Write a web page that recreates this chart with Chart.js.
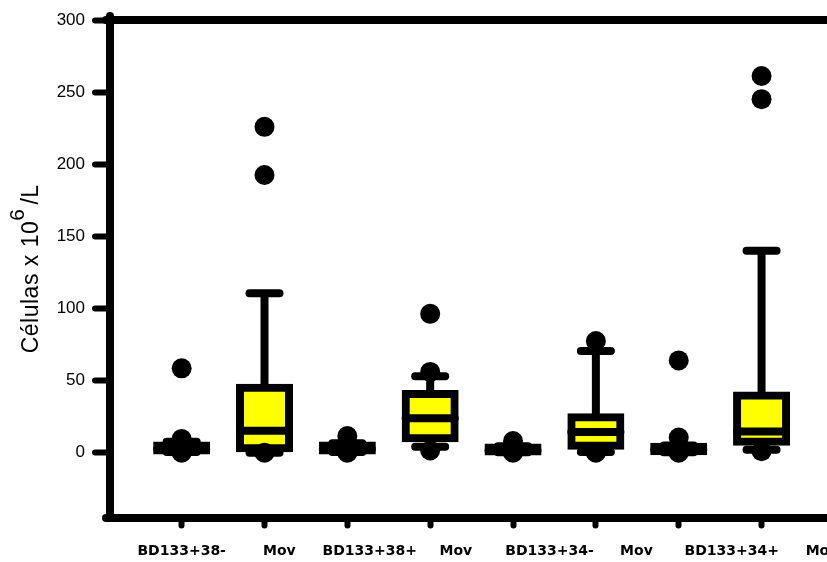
<!DOCTYPE html>
<html>
<head>
<meta charset="utf-8">
<title>Células x 10^6/L</title>
<script src="https://cdn.jsdelivr.net/npm/chart.js@4.4.1/dist/chart.umd.min.js"></script>
<style>
  html, body { margin: 0; padding: 0; background: #ffffff; overflow: hidden; }
  #wrap { width: 827px; height: 562px; position: relative; }
</style>
</head>
<body>
<div id="wrap"><canvas id="chart" width="827" height="562"></canvas></div>
<script>
// Groups along the x axis
const categories = ['BD133+38-', 'Mov', 'BD133+38+', 'Mov', 'BD133+34-', 'Mov', 'BD133+34+', 'Mov'];
const categoryPos = [1, 2, 3, 4, 5, 6, 7, 8];

// Box plot statistics (cells x 10^6 / L)
const whiskerLow  = [0.5, 0,     0.5, 4,    0.3, 0.5,  0.3, 2];
const q1          = [1.5, 3,     1.5, 10,   0.8, 4.8,  1,   7.5];
const median      = [2.5, 15.2,  2.5, 23.8, 1.5, 14.3, 2,   14.7];
const q3          = [5,   45,    5,   40.6, 3.5, 24.6, 4,   39.7];
const whiskerHigh = [7.5, 110.5, 6.5, 53,   4.5, 70.5, 5,   140];
const outliers = [
  [0, 9.5, 58.5],
  [0, 192.6, 226],
  [0, 11.5],
  [1.5, 56, 96.3],
  [0, 8],
  [0, 77.4],
  [0, 10.5, 64],
  [1, 245.2, 261.3]
];

// Axis ticks and where each group label sits on the x axis
const yTicks = [0, 50, 100, 150, 200, 250, 300];
const labelPos = [1.0, 2.18, 3.27, 4.31, 5.44, 6.49, 7.64, 8.73];

const BLACK = '#000000';
const YELLOW = '#ffff00';
const LW = 8;
const X_MIN = 0.135, X_MAX = 8.79;

const boxData = categoryPos.map((x, i) => ({ x, y: [q1[i], q3[i]] }));
const whiskerData = categoryPos.map((x, i) => ({ x, y: [whiskerLow[i], whiskerHigh[i]] }));
const capData = categoryPos.flatMap((x, i) => [{ x, y: whiskerLow[i] }, { x, y: whiskerHigh[i] }]);
const medianData = categoryPos.map((x, i) => ({ x, y: median[i] }));
const outlierData = categoryPos.flatMap((x, i) => outliers[i].map(v => ({ x, y: v })));

// A box thinner than its own outline shows no fill
function boxFill(ctx) {
  const i = ctx.dataIndex;
  const y = ctx.chart.scales && ctx.chart.scales.y;
  if (i === undefined || !y) return YELLOW;
  const h = Math.abs(y.getPixelForValue(q1[i]) - y.getPixelForValue(q3[i]));
  return h > LW ? YELLOW : BLACK;
}

const decorations = {
  id: 'decorations',
  beforeDraw(chart) {
    chart.ctx.lineCap = 'round';
    chart.ctx.lineJoin = 'round';
  },
  afterDraw(chart) {
    const { ctx, scales: { x, y } } = chart;

    // group labels under the axis
    ctx.save();
    ctx.font = 'bold 14px "DejaVu Sans", sans-serif';
    ctx.fillStyle = BLACK;
    ctx.textAlign = 'center';
    ctx.textBaseline = 'middle';
    categories.forEach((t, i) => {
      ctx.fillText(t, x.getPixelForValue(labelPos[i]), x.top + 34);
    });
    ctx.restore();

    // y axis title with raised exponent
    const size = 23;
    const main = 'Células x 10';
    const sup = '6';
    const tail = '/L';
    ctx.save();
    ctx.fillStyle = BLACK;
    ctx.textBaseline = 'alphabetic';
    ctx.textAlign = 'left';
    if ('letterSpacing' in ctx) ctx.letterSpacing = '0.5px';
    const fMain = size + 'px "Liberation Sans", Arial, sans-serif';
    const fSup = (size - 2) + 'px "Liberation Sans", Arial, sans-serif';
    ctx.font = fMain;
    const wMain = ctx.measureText(main).width;
    const wTail = ctx.measureText(tail).width;
    ctx.font = fSup;
    const wSup = ctx.measureText(sup).width;
    const gap = 4;
    const total = wMain + wSup + gap + wTail;
    ctx.translate(38, (y.top + y.bottom) / 2);
    ctx.rotate(-Math.PI / 2);
    let px = -total / 2;
    ctx.font = fMain;
    ctx.fillText(main, px, 0);
    px += wMain;
    ctx.font = fSup;
    ctx.fillText(sup, px, -14);
    px += wSup + gap;
    ctx.font = fMain;
    ctx.fillText(tail, px, 0);
    ctx.restore();
  }
};

new Chart(document.getElementById('chart'), {
  type: 'scatter',
  data: {
    datasets: [
      {
        type: 'scatter', label: 'outliers', data: outlierData,
        pointStyle: 'circle', pointRadius: 10, pointBackgroundColor: BLACK,
        pointBorderWidth: 0, order: 0, clip: false
      },
      {
        type: 'scatter', label: 'median', data: medianData,
        pointStyle: 'line', pointRadius: 24.5, pointBorderWidth: LW,
        pointBorderColor: BLACK, order: 1, clip: false
      },
      {
        type: 'bar', label: 'box', data: boxData,
        backgroundColor: boxFill, borderColor: BLACK, borderWidth: LW,
        borderSkipped: false, inflateAmount: LW / 2, maxBarThickness: 49,
        grouped: false, order: 2, clip: false
      },
      {
        type: 'scatter', label: 'caps', data: capData,
        pointStyle: 'line', pointRadius: 15, pointBorderWidth: LW,
        pointBorderColor: BLACK, order: 3, clip: false
      },
      {
        type: 'bar', label: 'whisker', data: whiskerData,
        backgroundColor: BLACK, borderWidth: 0, inflateAmount: 0,
        maxBarThickness: LW, grouped: false, order: 4, clip: false
      }
    ]
  },
  options: {
    responsive: false,
    maintainAspectRatio: false,
    animation: false,
    events: [],
    layout: { autoPadding: false, padding: { top: 18, right: 0, bottom: 0, left: 0 } },
    plugins: { legend: { display: false }, tooltip: { enabled: false } },
    scales: {
      x: {
        type: 'linear', position: 'bottom', min: X_MIN, max: X_MAX, offset: false,
        afterBuildTicks: s => { s.ticks = categoryPos.map(v => ({ value: v })); },
        afterFit: s => { s.height = 44.5; },
        ticks: { display: false },
        grid: { display: true, drawOnChartArea: false, drawTicks: true, tickLength: 8,
                tickWidth: 6, tickColor: BLACK, color: BLACK, offset: false },
        border: { display: true, width: LW, color: BLACK }
      },
      xTop: {
        type: 'linear', position: 'top', min: X_MIN, max: X_MAX, offset: false,
        afterFit: s => { s.height = 0; },
        ticks: { display: false },
        grid: { display: false, drawTicks: false },
        border: { display: true, width: LW, color: BLACK }
      },
      y: {
        type: 'linear', position: 'left', min: -45, max: 300, bounds: 'data',
        afterBuildTicks: s => { s.ticks = yTicks.map(v => ({ value: v })); },
        afterFit: s => { s.width = 110; },
        ticks: { color: BLACK, padding: 10, font: { family: '"Liberation Sans", Arial, sans-serif', size: 17 } },
        grid: { display: true, drawOnChartArea: false, drawTicks: true, tickLength: 15,
                tickWidth: 6, tickColor: BLACK, color: BLACK },
        border: { display: true, width: LW, color: BLACK }
      }
    }
  },
  plugins: [decorations]
});
</script>
</body>
</html>
